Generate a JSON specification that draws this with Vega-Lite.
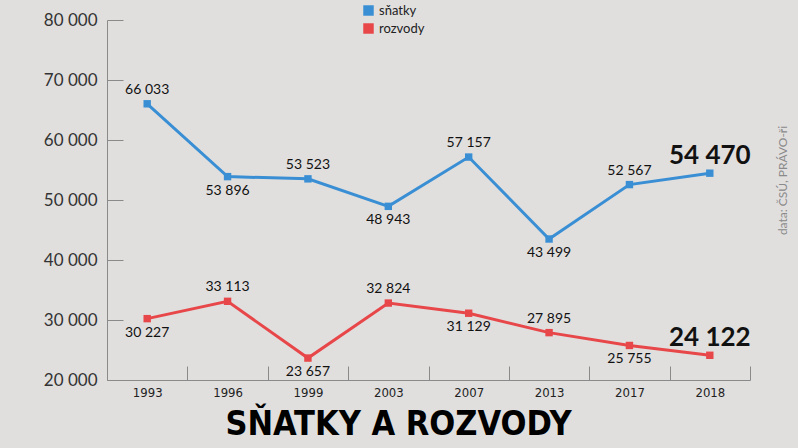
{
  "$schema": "https://vega.github.io/schema/vega-lite/v6.json",
  "width": 643,
  "height": 360,
  "autosize": {"type": "none"},
  "padding": {"left": 107, "top": 20, "right": 48, "bottom": 68},
  "background": "#e1dfde",
  "config": {
    "locale": {"number": {"decimal": ",", "thousands": " ", "grouping": [3], "currency": ["", " Kč"]}},
    "view": {"stroke": null},
    "font": "Lato"
  },
  "title": {
    "text": "SŇATKY A ROZVODY",
    "orient": "bottom",
    "anchor": "middle",
    "font": "DejaVu Sans Condensed",
    "fontSize": 34,
    "fontWeight": "bold",
    "color": "#000000",
    "offset": 9,
    "dx": -30
  },
  "data": {
    "values": [
      {"series": "sňatky", "year": "1993", "value": 66033},
      {"series": "sňatky", "year": "1996", "value": 53896},
      {"series": "sňatky", "year": "1999", "value": 53523},
      {"series": "sňatky", "year": "2003", "value": 48943},
      {"series": "sňatky", "year": "2007", "value": 57157},
      {"series": "sňatky", "year": "2013", "value": 43499},
      {"series": "sňatky", "year": "2017", "value": 52567},
      {"series": "sňatky", "year": "2018", "value": 54470},
      {"series": "rozvody", "year": "1993", "value": 30227},
      {"series": "rozvody", "year": "1996", "value": 33113},
      {"series": "rozvody", "year": "1999", "value": 23657},
      {"series": "rozvody", "year": "2003", "value": 32824},
      {"series": "rozvody", "year": "2007", "value": 31129},
      {"series": "rozvody", "year": "2013", "value": 27895},
      {"series": "rozvody", "year": "2017", "value": 25755},
      {"series": "rozvody", "year": "2018", "value": 24122}
    ]
  },
  "encoding": {
    "x": {
      "field": "year",
      "type": "ordinal",
      "bandPosition": 0.5,
      "scale": {"type": "band", "paddingInner": 0, "paddingOuter": 0},
      "axis": {
        "title": null,
        "labelAngle": 0,
        "tickBand": "extent",
        "tickSize": -14,
        "labelPadding": 20,
        "domainColor": "#8a8a8a",
        "tickColor": "#8a8a8a",
        "labelFont": "DejaVu Sans Condensed",
        "labelFontSize": 13,
        "labelColor": "#222222"
      }
    },
    "y": {
      "field": "value",
      "type": "quantitative",
      "scale": {"domain": [20000, 80000], "nice": false, "zero": false}
    }
  },
  "layer": [
    {
      "mark": {"type": "line", "strokeWidth": 3},
      "encoding": {
        "y": {
          "field": "value",
          "type": "quantitative",
          "axis": {
            "title": null,
            "values": [20000, 30000, 40000, 50000, 60000, 70000, 80000],
            "format": ",d",
            "grid": false,
            "tickSize": -16,
            "labelPadding": 26,
            "domainColor": "#8a8a8a",
            "tickColor": "#8a8a8a",
            "labelFontSize": 17,
            "labelColor": "#333333"
          }
        },
        "color": {
          "field": "series",
          "type": "nominal",
          "scale": {"domain": ["sňatky", "rozvody"], "range": ["#3a8fd4", "#e8474a"]},
          "legend": {
            "title": null,
            "orient": "none",
            "legendX": 255,
            "legendY": -16,
            "symbolType": "square",
            "symbolSize": 110,
            "symbolStrokeWidth": 0,
            "labelFontSize": 13,
            "labelColor": "#222222",
            "rowPadding": 4,
            "padding": 0
          }
        }
      }
    },
    {
      "mark": {"type": "square", "size": 55, "opacity": 1},
      "encoding": {
        "y": {
          "field": "value",
          "type": "quantitative",
          "axis": {
            "orient": "right",
            "title": "data: ČSÚ, PRÁVO-ři",
            "titleAngle": 270,
            "titleFontSize": 12,
            "titleFontWeight": "normal",
            "titleColor": "#8a8a8a",
            "titleX": 32,
            "titleY": 160,
            "titleAlign": "center",
            "titleBaseline": "middle",
            "labels": false,
            "ticks": false,
            "domain": false,
            "grid": false
          }
        },
        "color": {"field": "series", "type": "nominal"}
      }
    },
    {
      "transform": [{"filter": "(datum.series == 'sňatky' && indexof(['1993','1999','2007','2017'], datum.year) >= 0) || (datum.series == 'rozvody' && indexof(['1996','2003','2013'], datum.year) >= 0)"}],
      "mark": {"type": "text", "fontSize": 14, "color": "#111111", "dy": -14},
      "encoding": {
        "y": {"field": "value", "type": "quantitative", "axis": null},
        "text": {"field": "value", "type": "quantitative", "format": ",d"}
      }
    },
    {
      "transform": [{"filter": "datum.year != '2018' && !((datum.series == 'sňatky' && indexof(['1993','1999','2007','2017'], datum.year) >= 0) || (datum.series == 'rozvody' && indexof(['1996','2003','2013'], datum.year) >= 0))"}],
      "mark": {"type": "text", "fontSize": 14, "color": "#111111", "dy": 14},
      "encoding": {
        "y": {"field": "value", "type": "quantitative", "axis": null},
        "text": {"field": "value", "type": "quantitative", "format": ",d"}
      }
    },
    {
      "transform": [{"filter": "datum.year == '2018'"}],
      "mark": {"type": "text", "fontSize": 26, "fontWeight": "bold", "color": "#111111", "dy": -17, "dx": 0},
      "encoding": {
        "y": {"field": "value", "type": "quantitative", "axis": null},
        "text": {"field": "value", "type": "quantitative", "format": ",d"}
      }
    }
  ],
  "resolve": {"axis": {"y": "independent"}}
}
